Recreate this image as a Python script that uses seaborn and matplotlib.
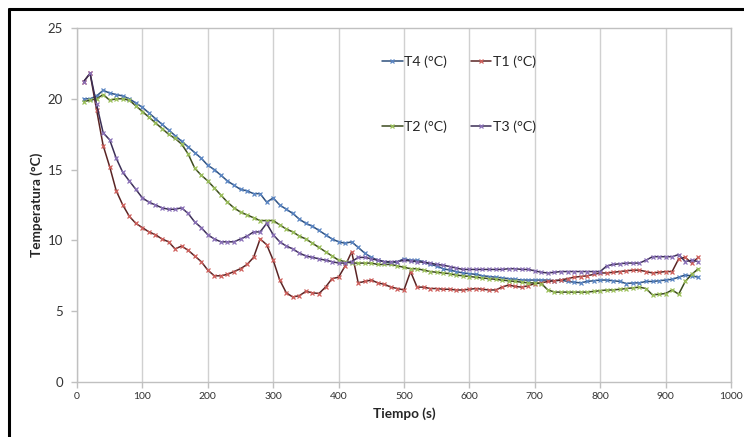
import numpy as np
import pandas as pd
import matplotlib
matplotlib.use("Agg")
import matplotlib.pyplot as plt
import seaborn as sns
from matplotlib.lines import Line2D

# ---------------- data ----------------
tiempo = list(range(10, 951, 10))

T4 = [20.0, 20.0, 20.2, 20.6, 20.4, 20.3, 20.2, 20.0, 19.7, 19.4,
      19.0, 18.6, 18.2, 17.8, 17.4, 17.0, 16.6, 16.2, 15.8, 15.3,
      15.0, 14.6, 14.2, 13.9, 13.6, 13.5, 13.3, 13.3, 12.7, 13.0,
      12.5, 12.2, 11.9, 11.5, 11.2, 11.0, 10.7, 10.4, 10.1, 9.9,
      9.8, 9.9, 9.5, 9.1, 8.8, 8.6, 8.5, 8.4, 8.5, 8.7,
      8.6, 8.6, 8.5, 8.3, 8.2, 8.0, 7.9, 7.8, 7.7, 7.65,
      7.6, 7.5, 7.45, 7.4, 7.35, 7.3, 7.25, 7.2, 7.2, 7.2,
      7.2, 7.2, 7.15, 7.2, 7.1, 7.05, 7.0, 7.1, 7.15, 7.2,
      7.2, 7.15, 7.1, 6.95, 7.0, 7.0, 7.1, 7.1, 7.15, 7.2,
      7.25, 7.4, 7.55, 7.5, 7.4]

T1 = [21.2, 21.8, 19.2, 16.7, 15.2, 13.5, 12.5, 11.7, 11.2, 10.9,
      10.6, 10.4, 10.1, 9.9, 9.4, 9.6, 9.3, 8.9, 8.5, 7.9,
      7.5, 7.5, 7.6, 7.8, 8.0, 8.3, 8.8, 10.1, 9.7, 8.6,
      7.2, 6.3, 6.0, 6.1, 6.4, 6.3, 6.25, 6.7, 7.3, 7.4,
      8.2, 9.2, 7.0, 7.1, 7.2, 7.0, 6.9, 6.7, 6.6, 6.5,
      7.8, 6.7, 6.7, 6.6, 6.6, 6.55, 6.55, 6.5, 6.5, 6.55,
      6.6, 6.55, 6.5, 6.5, 6.7, 6.85, 6.75, 6.7, 6.8, 6.95,
      7.0, 7.1, 7.15, 7.2, 7.3, 7.4, 7.45, 7.5, 7.6, 7.7,
      7.7, 7.75, 7.8, 7.85, 7.9, 7.9, 7.8, 7.7, 7.75, 7.8,
      7.8, 8.7, 8.8, 8.4, 8.8]

T2 = [19.8, 19.9, 20.0, 20.3, 19.9, 20.0, 20.0, 19.9, 19.5, 19.1,
      18.7, 18.3, 17.9, 17.5, 17.2, 16.8, 16.1, 15.1, 14.6, 14.2,
      13.7, 13.2, 12.7, 12.3, 12.0, 11.8, 11.6, 11.4, 11.4, 11.4,
      11.1, 10.8, 10.6, 10.3, 10.1, 9.8, 9.5, 9.2, 8.9, 8.6,
      8.5, 8.4, 8.4, 8.4, 8.4, 8.3, 8.3, 8.3, 8.2, 8.1,
      8.0, 8.0, 7.9, 7.8, 7.75, 7.7, 7.65, 7.55, 7.5, 7.45,
      7.4, 7.35, 7.3, 7.25, 7.2, 7.15, 7.1, 7.05, 7.0, 7.0,
      6.95, 6.5, 6.35, 6.35, 6.35, 6.35, 6.35, 6.35, 6.4, 6.45,
      6.5, 6.5, 6.55, 6.6, 6.65, 6.7, 6.6, 6.15, 6.2, 6.25,
      6.5, 6.2, 7.1, 7.6, 8.0]

T3 = [21.2, 21.8, 19.6, 17.6, 17.1, 15.8, 14.8, 14.2, 13.6, 13.0,
      12.7, 12.5, 12.3, 12.2, 12.2, 12.3, 11.9, 11.3, 10.9, 10.4,
      10.1, 9.9, 9.9, 9.9, 10.1, 10.3, 10.6, 10.6, 11.2, 10.4,
      9.9, 9.6, 9.4, 9.1, 8.9, 8.8, 8.7, 8.6, 8.5, 8.4,
      8.4, 8.5, 8.8, 8.8, 8.7, 8.6, 8.5, 8.5, 8.5, 8.6,
      8.55, 8.5, 8.45, 8.4, 8.3, 8.25, 8.15, 8.05, 7.95, 7.95,
      7.95, 7.95, 7.95, 7.95, 7.95, 8.0, 8.0, 7.95, 7.95, 7.85,
      7.75, 7.7, 7.75, 7.8, 7.8, 7.8, 7.8, 7.8, 7.8, 7.8,
      8.2, 8.3, 8.35, 8.4, 8.4, 8.4, 8.6, 8.85, 8.85, 8.85,
      8.85, 9.0, 8.5, 8.6, 8.5]

series_labels = ["T4 (°C)", "T1 (°C)", "T2 (°C)", "T3 (°C)"]
x_ticks = [0, 100, 200, 300, 400, 500, 600, 700, 800, 900, 1000]
y_ticks = [0, 5, 10, 15, 20, 25]

# ---------------- style ----------------
sns.set_style("white")
plt.rcParams["font.family"] = ["Lato", "DejaVu Sans"]

fig = plt.figure(figsize=(7.44, 4.37), dpi=100)
ax = fig.add_axes([77 / 744, 1 - 382 / 437, (731 - 77) / 744, (382 - 28) / 437])

styles = {
    "T4 (°C)": (T4, "#2d4f7c", "#5b86c4"),
    "T1 (°C)": (T1, "#5a2424", "#d0605c"),
    "T2 (°C)": (T2, "#3c4a1e", "#9cc15a"),
    "T3 (°C)": (T3, "#3b2e55", "#8a70b8"),
}
handles = {}
for lab in series_labels:
    vals, dark, light = styles[lab]
    sns.lineplot(x=tiempo, y=vals, ax=ax, color=dark, linewidth=1.1,
                 marker="x", markersize=3.5, markeredgecolor=light,
                 markeredgewidth=0.9, label=lab, legend=False)
    handles[lab] = Line2D([0], [0], color=dark, linewidth=1.1, marker="x",
                          markersize=3.5, markeredgecolor=light,
                          markeredgewidth=0.9)

ax.set_xlim(0, 1000)
ax.set_ylim(0, 25)
ax.set_xticks(x_ticks)
ax.set_yticks(y_ticks)
ax.xaxis.grid(True, color="#d0d0d0", linewidth=1.0)
ax.yaxis.grid(False)
for s in ax.spines.values():
    s.set_color("#c0c0c0")
    s.set_linewidth(1.0)
ax.tick_params(axis="x", labelsize=7.5, colors="#c0c0c0", labelcolor="#333333",
               length=4, width=1, direction="out", bottom=True, pad=3)
ax.tick_params(axis="y", labelsize=9.5, colors="#c0c0c0", labelcolor="#333333",
               length=4, width=1, direction="out", left=True, pad=6)

ax.set_xlabel("Tiempo (s)", fontsize=9.8, fontweight="bold", labelpad=5)
ax.set_ylabel("Temperatura (°C)", fontsize=9.8, fontweight="bold", labelpad=3)

leg_order = ["T4 (°C)", "T2 (°C)", "T1 (°C)", "T3 (°C)"]
leg = ax.legend([handles[l] for l in leg_order], leg_order, ncol=2,
                loc="upper left", bbox_to_anchor=(382 / 744, 1 - 55 / 437),
                bbox_transform=fig.transFigure, frameon=False,
                fontsize=10.2, handlelength=1.45, handletextpad=0.1,
                columnspacing=1.7, labelspacing=3.7, borderpad=0,
                borderaxespad=0)

# figure frame (black border on top and left)
fig.add_artist(Line2D([9 / 744, 1.0], [1 - 9 / 437, 1 - 9 / 437],
                      transform=fig.transFigure, color="black", linewidth=2.2))
fig.add_artist(Line2D([9 / 744, 9 / 744], [0.0, 1 - 9 / 437],
                      transform=fig.transFigure, color="black", linewidth=2.2))

fig.savefig("out.png", dpi=100)
